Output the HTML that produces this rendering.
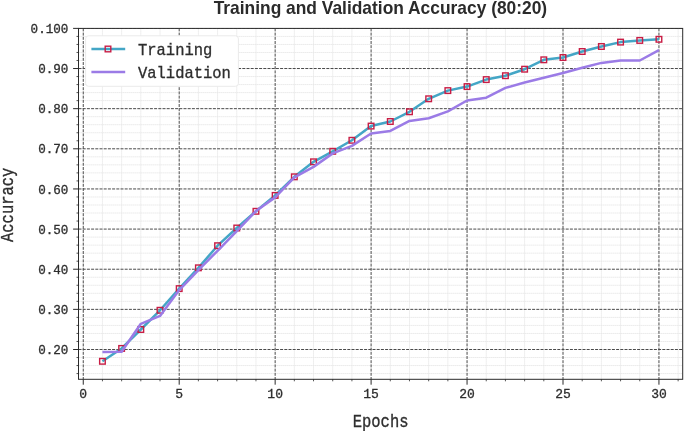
<!DOCTYPE html><html><head><meta charset="utf-8"><style>html,body{margin:0;padding:0;background:#fff;}svg{display:block;will-change:transform;filter:blur(0.4px)}</style></head><body>
<svg width="685" height="431" viewBox="0 0 685 431">
<rect width="685" height="431" fill="#fff"/>
<defs><clipPath id="c"><rect x="78.5" y="28.4" width="604.2" height="350.90000000000003"/></clipPath></defs>
<g clip-path="url(#c)">
<path d="M102.44 28.4V379.3M121.63 28.4V379.3M140.82 28.4V379.3M160.01 28.4V379.3M198.39 28.4V379.3M217.58 28.4V379.3M236.77 28.4V379.3M255.96 28.4V379.3M294.34 28.4V379.3M313.53 28.4V379.3M332.72 28.4V379.3M351.91 28.4V379.3M390.29 28.4V379.3M409.48 28.4V379.3M428.67 28.4V379.3M447.86 28.4V379.3M486.24 28.4V379.3M505.43 28.4V379.3M524.62 28.4V379.3M543.81 28.4V379.3M582.19 28.4V379.3M601.38 28.4V379.3M620.57 28.4V379.3M639.76 28.4V379.3M678.14 28.4V379.3M78.5 373.58H682.7M78.5 365.56H682.7M78.5 357.53H682.7M78.5 341.47H682.7M78.5 333.44H682.7M78.5 325.42H682.7M78.5 317.39H682.7M78.5 301.33H682.7M78.5 293.30H682.7M78.5 285.28H682.7M78.5 277.25H682.7M78.5 261.19H682.7M78.5 253.16H682.7M78.5 245.14H682.7M78.5 237.11H682.7M78.5 221.05H682.7M78.5 213.02H682.7M78.5 205.00H682.7M78.5 196.97H682.7M78.5 180.91H682.7M78.5 172.88H682.7M78.5 164.86H682.7M78.5 156.83H682.7M78.5 140.77H682.7M78.5 132.74H682.7M78.5 124.72H682.7M78.5 116.69H682.7M78.5 100.63H682.7M78.5 92.60H682.7M78.5 84.58H682.7M78.5 76.55H682.7M78.5 60.49H682.7M78.5 52.46H682.7M78.5 44.44H682.7M78.5 36.41H682.7" stroke="#e6e6e6" stroke-width="1" fill="none" stroke-dasharray="1.3 0.7"/>
<path d="M83.25 28.4V379.3M179.20 28.4V379.3M275.15 28.4V379.3M371.10 28.4V379.3M467.05 28.4V379.3M563.00 28.4V379.3M658.95 28.4V379.3M78.5 349.50H682.7M78.5 309.36H682.7M78.5 269.22H682.7M78.5 229.08H682.7M78.5 188.94H682.7M78.5 148.80H682.7M78.5 108.66H682.7M78.5 68.52H682.7M78.5 28.38H682.7" stroke="#4a4a4a" stroke-width="1" fill="none" stroke-dasharray="3 1.2"/>
<polyline points="102.44,361.30 121.63,348.42 140.82,329.51 160.01,310.28 179.20,288.61 198.39,267.82 217.58,245.70 236.77,228.00 255.96,211.30 275.15,195.40 294.34,176.82 313.53,161.81 332.72,151.29 351.91,140.29 371.10,126.08 390.29,121.50 409.48,111.79 428.67,98.79 447.86,90.60 467.05,86.58 486.24,79.60 505.43,75.71 524.62,69.20 543.81,59.81 563.00,57.52 582.19,51.50 601.38,46.48 620.57,42.11 639.76,40.42 658.95,39.30" stroke="#44a6c6" stroke-width="2.5" fill="none" stroke-linejoin="round" stroke-linecap="butt"/>
<rect x="99.64" y="358.50" width="5.6" height="5.6" fill="none" stroke="#c81d45" stroke-width="1.4"/>
<rect x="118.83" y="345.62" width="5.6" height="5.6" fill="none" stroke="#c81d45" stroke-width="1.4"/>
<rect x="138.02" y="326.71" width="5.6" height="5.6" fill="none" stroke="#c81d45" stroke-width="1.4"/>
<rect x="157.21" y="307.48" width="5.6" height="5.6" fill="none" stroke="#c81d45" stroke-width="1.4"/>
<rect x="176.40" y="285.81" width="5.6" height="5.6" fill="none" stroke="#c81d45" stroke-width="1.4"/>
<rect x="195.59" y="265.02" width="5.6" height="5.6" fill="none" stroke="#c81d45" stroke-width="1.4"/>
<rect x="214.78" y="242.90" width="5.6" height="5.6" fill="none" stroke="#c81d45" stroke-width="1.4"/>
<rect x="233.97" y="225.20" width="5.6" height="5.6" fill="none" stroke="#c81d45" stroke-width="1.4"/>
<rect x="253.16" y="208.50" width="5.6" height="5.6" fill="none" stroke="#c81d45" stroke-width="1.4"/>
<rect x="272.35" y="192.60" width="5.6" height="5.6" fill="none" stroke="#c81d45" stroke-width="1.4"/>
<rect x="291.54" y="174.02" width="5.6" height="5.6" fill="none" stroke="#c81d45" stroke-width="1.4"/>
<rect x="310.73" y="159.01" width="5.6" height="5.6" fill="none" stroke="#c81d45" stroke-width="1.4"/>
<rect x="329.92" y="148.49" width="5.6" height="5.6" fill="none" stroke="#c81d45" stroke-width="1.4"/>
<rect x="349.11" y="137.49" width="5.6" height="5.6" fill="none" stroke="#c81d45" stroke-width="1.4"/>
<rect x="368.30" y="123.28" width="5.6" height="5.6" fill="none" stroke="#c81d45" stroke-width="1.4"/>
<rect x="387.49" y="118.70" width="5.6" height="5.6" fill="none" stroke="#c81d45" stroke-width="1.4"/>
<rect x="406.68" y="108.99" width="5.6" height="5.6" fill="none" stroke="#c81d45" stroke-width="1.4"/>
<rect x="425.87" y="95.99" width="5.6" height="5.6" fill="none" stroke="#c81d45" stroke-width="1.4"/>
<rect x="445.06" y="87.80" width="5.6" height="5.6" fill="none" stroke="#c81d45" stroke-width="1.4"/>
<rect x="464.25" y="83.78" width="5.6" height="5.6" fill="none" stroke="#c81d45" stroke-width="1.4"/>
<rect x="483.44" y="76.80" width="5.6" height="5.6" fill="none" stroke="#c81d45" stroke-width="1.4"/>
<rect x="502.63" y="72.91" width="5.6" height="5.6" fill="none" stroke="#c81d45" stroke-width="1.4"/>
<rect x="521.82" y="66.40" width="5.6" height="5.6" fill="none" stroke="#c81d45" stroke-width="1.4"/>
<rect x="541.01" y="57.01" width="5.6" height="5.6" fill="none" stroke="#c81d45" stroke-width="1.4"/>
<rect x="560.20" y="54.72" width="5.6" height="5.6" fill="none" stroke="#c81d45" stroke-width="1.4"/>
<rect x="579.39" y="48.70" width="5.6" height="5.6" fill="none" stroke="#c81d45" stroke-width="1.4"/>
<rect x="598.58" y="43.68" width="5.6" height="5.6" fill="none" stroke="#c81d45" stroke-width="1.4"/>
<rect x="617.77" y="39.31" width="5.6" height="5.6" fill="none" stroke="#c81d45" stroke-width="1.4"/>
<rect x="636.96" y="37.62" width="5.6" height="5.6" fill="none" stroke="#c81d45" stroke-width="1.4"/>
<rect x="656.15" y="36.50" width="5.6" height="5.6" fill="none" stroke="#c81d45" stroke-width="1.4"/>
<polyline points="102.44,351.91 121.63,351.71 140.82,323.81 160.01,315.90 179.20,290.09 198.39,270.02 217.58,250.76 236.77,231.09 255.96,211.02 275.15,197.37 294.34,177.30 313.53,166.86 332.72,153.38 351.91,145.91 371.10,133.55 390.29,130.90 409.48,120.90 428.67,118.29 447.86,111.39 467.05,100.47 486.24,97.70 505.43,87.91 524.62,82.57 543.81,77.75 563.00,72.94 582.19,67.80 601.38,62.90 620.57,60.49 639.76,60.49 658.95,50.18" stroke="#9b7be6" stroke-width="2.5" fill="none" stroke-linejoin="round"/>
</g>
<rect x="78.5" y="28.4" width="604.2" height="350.90000000000003" fill="none" stroke="#2a2a2a" stroke-width="1"/>
<path d="M83.25 379.3v5.4M179.20 379.3v5.4M275.15 379.3v5.4M371.10 379.3v5.4M467.05 379.3v5.4M563.00 379.3v5.4M658.95 379.3v5.4M78.5 349.50h-5.4M78.5 309.36h-5.4M78.5 269.22h-5.4M78.5 229.08h-5.4M78.5 188.94h-5.4M78.5 148.80h-5.4M78.5 108.66h-5.4M78.5 68.52h-5.4M78.5 28.38h-5.4" stroke="#2a2a2a" stroke-width="1" fill="none"/>
<path d="M102.44 379.3v2M121.63 379.3v2M140.82 379.3v2M160.01 379.3v2M198.39 379.3v2M217.58 379.3v2M236.77 379.3v2M255.96 379.3v2M294.34 379.3v2M313.53 379.3v2M332.72 379.3v2M351.91 379.3v2M390.29 379.3v2M409.48 379.3v2M428.67 379.3v2M447.86 379.3v2M486.24 379.3v2M505.43 379.3v2M524.62 379.3v2M543.81 379.3v2M582.19 379.3v2M601.38 379.3v2M620.57 379.3v2M639.76 379.3v2M678.14 379.3v2M78.5 373.58h-2M78.5 365.56h-2M78.5 357.53h-2M78.5 341.47h-2M78.5 333.44h-2M78.5 325.42h-2M78.5 317.39h-2M78.5 301.33h-2M78.5 293.30h-2M78.5 285.28h-2M78.5 277.25h-2M78.5 261.19h-2M78.5 253.16h-2M78.5 245.14h-2M78.5 237.11h-2M78.5 221.05h-2M78.5 213.02h-2M78.5 205.00h-2M78.5 196.97h-2M78.5 180.91h-2M78.5 172.88h-2M78.5 164.86h-2M78.5 156.83h-2M78.5 140.77h-2M78.5 132.74h-2M78.5 124.72h-2M78.5 116.69h-2M78.5 100.63h-2M78.5 92.60h-2M78.5 84.58h-2M78.5 76.55h-2M78.5 60.49h-2M78.5 52.46h-2M78.5 44.44h-2M78.5 36.41h-2" stroke="#2a2a2a" stroke-width="0.8" fill="none"/>
<text x="83.25" y="398.3" font-family="Liberation Mono, monospace" font-size="13" text-anchor="middle" fill="#2e2e2e" stroke="#2e2e2e" stroke-width="0.3">0</text>
<text x="179.20" y="398.3" font-family="Liberation Mono, monospace" font-size="13" text-anchor="middle" fill="#2e2e2e" stroke="#2e2e2e" stroke-width="0.3">5</text>
<text x="275.15" y="398.3" font-family="Liberation Mono, monospace" font-size="13" text-anchor="middle" fill="#2e2e2e" stroke="#2e2e2e" stroke-width="0.3">10</text>
<text x="371.10" y="398.3" font-family="Liberation Mono, monospace" font-size="13" text-anchor="middle" fill="#2e2e2e" stroke="#2e2e2e" stroke-width="0.3">15</text>
<text x="467.05" y="398.3" font-family="Liberation Mono, monospace" font-size="13" text-anchor="middle" fill="#2e2e2e" stroke="#2e2e2e" stroke-width="0.3">20</text>
<text x="563.00" y="398.3" font-family="Liberation Mono, monospace" font-size="13" text-anchor="middle" fill="#2e2e2e" stroke="#2e2e2e" stroke-width="0.3">25</text>
<text x="658.95" y="398.3" font-family="Liberation Mono, monospace" font-size="13" text-anchor="middle" fill="#2e2e2e" stroke="#2e2e2e" stroke-width="0.3">30</text>
<text transform="translate(68.4,354.10) scale(1,1.03)" font-family="Liberation Mono, monospace" font-size="12.6" text-anchor="end" fill="#2e2e2e" stroke="#2e2e2e" stroke-width="0.3">0.20</text>
<text transform="translate(68.4,313.96) scale(1,1.03)" font-family="Liberation Mono, monospace" font-size="12.6" text-anchor="end" fill="#2e2e2e" stroke="#2e2e2e" stroke-width="0.3">0.30</text>
<text transform="translate(68.4,273.82) scale(1,1.03)" font-family="Liberation Mono, monospace" font-size="12.6" text-anchor="end" fill="#2e2e2e" stroke="#2e2e2e" stroke-width="0.3">0.40</text>
<text transform="translate(68.4,233.68) scale(1,1.03)" font-family="Liberation Mono, monospace" font-size="12.6" text-anchor="end" fill="#2e2e2e" stroke="#2e2e2e" stroke-width="0.3">0.50</text>
<text transform="translate(68.4,193.54) scale(1,1.03)" font-family="Liberation Mono, monospace" font-size="12.6" text-anchor="end" fill="#2e2e2e" stroke="#2e2e2e" stroke-width="0.3">0.60</text>
<text transform="translate(68.4,153.40) scale(1,1.03)" font-family="Liberation Mono, monospace" font-size="12.6" text-anchor="end" fill="#2e2e2e" stroke="#2e2e2e" stroke-width="0.3">0.70</text>
<text transform="translate(68.4,113.26) scale(1,1.03)" font-family="Liberation Mono, monospace" font-size="12.6" text-anchor="end" fill="#2e2e2e" stroke="#2e2e2e" stroke-width="0.3">0.80</text>
<text transform="translate(68.4,73.12) scale(1,1.03)" font-family="Liberation Mono, monospace" font-size="12.6" text-anchor="end" fill="#2e2e2e" stroke="#2e2e2e" stroke-width="0.3">0.90</text>
<text transform="translate(68.4,32.98) scale(1,1.03)" font-family="Liberation Mono, monospace" font-size="12.6" text-anchor="end" fill="#2e2e2e" stroke="#2e2e2e" stroke-width="0.3">0.100</text>
<text transform="translate(380.6,426.7) scale(1,1.17)" font-family="Liberation Mono, monospace" font-size="15.5" text-anchor="middle" fill="#2e2e2e" stroke="#2e2e2e" stroke-width="0.3">Epochs</text>
<text transform="translate(13,204.8) rotate(-90) scale(1,1.2)" font-family="Liberation Mono, monospace" font-size="15.5" text-anchor="middle" fill="#2e2e2e" stroke="#2e2e2e" stroke-width="0.3">Accuracy</text>
<text transform="translate(380.4,14) scale(1,1.06)" font-family="Liberation Sans, sans-serif" font-weight="bold" font-size="17.4" text-anchor="middle" fill="#2b2b2b">Training and Validation Accuracy (80:20)</text>
<rect x="85.6" y="35.8" width="152.8" height="50.5" rx="3" fill="#fff" stroke="#eaeaea" stroke-width="1"/>
<path d="M91.4 49H125.2" stroke="#44a6c6" stroke-width="2.3"/>
<rect x="105.2" y="46.2" width="5.6" height="5.6" fill="none" stroke="#c81d45" stroke-width="1.4"/>
<path d="M91.4 72H125.2" stroke="#9b7be6" stroke-width="2.3"/>
<text transform="translate(138,54.8) scale(1,1.12)" font-family="Liberation Mono, monospace" font-size="15.5" fill="#2e2e2e" stroke="#2e2e2e" stroke-width="0.3">Training</text>
<text transform="translate(138,77.6) scale(1,1.12)" font-family="Liberation Mono, monospace" font-size="15.5" fill="#2e2e2e" stroke="#2e2e2e" stroke-width="0.3">Validation</text>
</svg></body></html>
